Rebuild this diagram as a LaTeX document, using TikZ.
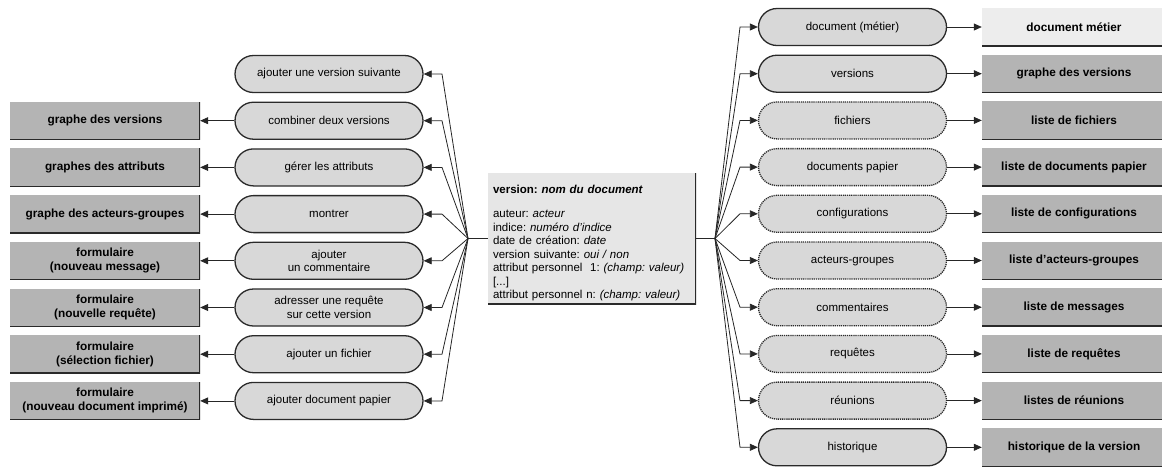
\documentclass[tikz,border=0pt]{standalone}
\usepackage{fontspec}
\setmainfont{Liberation Sans}
\usetikzlibrary{arrows.meta}
\definecolor{ovalfill}{HTML}{D8D8D8}
\definecolor{boxfill}{HTML}{B4B4B4}
\definecolor{centerfill}{HTML}{E6E6E6}
\definecolor{lightbox}{HTML}{EDEDED}
\definecolor{edgecol}{HTML}{2A2A2A}
\frenchspacing
\begin{document}
\begin{tikzpicture}[x=1pt,y=-1pt,
  font=\fontsize{11.5}{13.5}\selectfont,
  oval/.style={draw=edgecol, line width=1.3pt, fill=ovalfill, rounded corners=18.5pt,
    minimum width=188pt, minimum height=37pt, inner sep=2pt, align=center},
  dotoval/.style={oval, dash pattern=on 1.2pt off 0.9pt},
  edgeRB/.style={path picture={\draw[edgecol, line width=1.6pt]
    (path picture bounding box.north east) -- (path picture bounding box.south east)
    -- (path picture bounding box.south west);}},
  edgeB/.style={path picture={\draw[edgecol, line width=1.6pt]
    (path picture bounding box.south east) -- (path picture bounding box.south west);}},
  gbox/.style={fill=boxfill, minimum height=38pt, align=center, inner sep=2pt,
    font=\fontsize{11.8}{14}\selectfont\bfseries, edgeRB},
  lbox/.style={gbox, minimum width=190pt},
  rbox/.style={gbox, minimum width=184pt},
  link/.style={line width=0.8pt, draw=black!85},
  arr/.style={link, -{Triangle[length=8pt,width=7pt]}},
]
\useasboundingbox (0,0) rectangle (1162,467);

% central node
\node[fill=centerfill, edgeRB, minimum width=208pt, minimum height=127pt,
      text width=198pt, inner xsep=5pt, align=left] (ver) at (592,238.5)
  {\rule{0pt}{17pt}\textbf{version: \textit{nom du document}}\\[11pt]
   auteur: \textit{acteur}\\
   indice: \textit{numéro d'indice}\\
   date de création: \textit{date}\\
   version suivante: \textit{oui / non}\\
   attribut personnel\ \ 1: \textit{(champ: valeur)}\\{}
   [...]\\
   attribut personnel n: \textit{(champ: valeur)}};

\coordinate (hubL) at (468,238.5);
\coordinate (hubR) at (715,238.5);
\coordinate (bendL) at (442,0);
\coordinate (bendR) at (740,0);

% left ovals
\node[oval] (lo1) at (329,74)    {ajouter une version suivante};
\node[oval] (lo2) at (329,120.7) {combiner deux versions};
\node[oval] (lo3) at (329,167.4) {gérer les attributs};
\node[oval] (lo4) at (329,214.1) {montrer};
\node[oval] (lo5) at (329,260.8) {ajouter\\un commentaire};
\node[oval] (lo6) at (329,307.5) {adresser une requête\\sur cette version};
\node[oval] (lo7) at (329,354.2) {ajouter un fichier};
\node[oval] (lo8) at (329,400.9) {ajouter document papier};

% left boxes
\node[lbox] (lb2) at (105,120.7) {graphe des versions};
\node[lbox] (lb3) at (105,167.4) {graphes des attributs};
\node[lbox] (lb4) at (105,214.1) {graphe des acteurs-groupes};
\node[lbox] (lb5) at (105,260.8) {formulaire\\(nouveau message)};
\node[lbox] (lb6) at (105,307.5) {formulaire\\(nouvelle requête)};
\node[lbox] (lb7) at (105,354.2) {formulaire\\(sélection fichier)};
\node[lbox] (lb8) at (105,400.9) {formulaire\\(nouveau document imprimé)};

% right ovals
\node[oval]    (ro1)  at (852.5,27)    {document (métier)};
\node[oval]    (ro2)  at (852.5,73.7)  {versions};
\node[dotoval] (ro3)  at (852.5,120.4) {fichiers};
\node[dotoval] (ro4)  at (852.5,167.1) {documents papier};
\node[dotoval] (ro5)  at (852.5,213.8) {configurations};
\node[dotoval] (ro6)  at (852.5,260.5) {acteurs-groupes};
\node[dotoval] (ro7)  at (852.5,307.2) {commentaires};
\node[dotoval] (ro8)  at (852.5,353.9) {requêtes};
\node[dotoval] (ro9)  at (852.5,400.6) {réunions};
\node[oval]    (ro10) at (852.5,447.3) {historique};

% right boxes
\node[rbox, fill=lightbox, edgeB] (rb1) at (1074,27) {document métier};
\node[rbox] (rb2)  at (1074,73.7)  {graphe des versions};
\node[rbox] (rb3)  at (1074,120.4) {liste de fichiers};
\node[rbox] (rb4)  at (1074,167.1) {liste de documents papier};
\node[rbox] (rb5)  at (1074,213.8) {liste de configurations};
\node[rbox] (rb6)  at (1074,260.5) {liste d'acteurs-groupes};
\node[rbox] (rb7)  at (1074,307.2) {liste de messages};
\node[rbox] (rb8)  at (1074,353.9) {liste de requêtes};
\node[rbox] (rb9)  at (1074,400.6) {listes de réunions};
\node[rbox] (rb10) at (1074,447.3) {historique de la version};

% connectors from the central node
\draw[link] (ver) -- (hubL);
\draw[link] (ver) -- (hubR);
\foreach \i in {1,...,8}
  \draw[arr] (hubL) -- (lo\i.east -| bendL) -- (lo\i.east);
\foreach \i in {2,...,8}
  \draw[arr] (lo\i) -- (lb\i);
\foreach \i in {1,...,10}{
  \draw[arr] (hubR) -- (ro\i.west -| bendR) -- (ro\i.west);
  \draw[arr] (ro\i) -- (rb\i);
}
\end{tikzpicture}
\end{document}
